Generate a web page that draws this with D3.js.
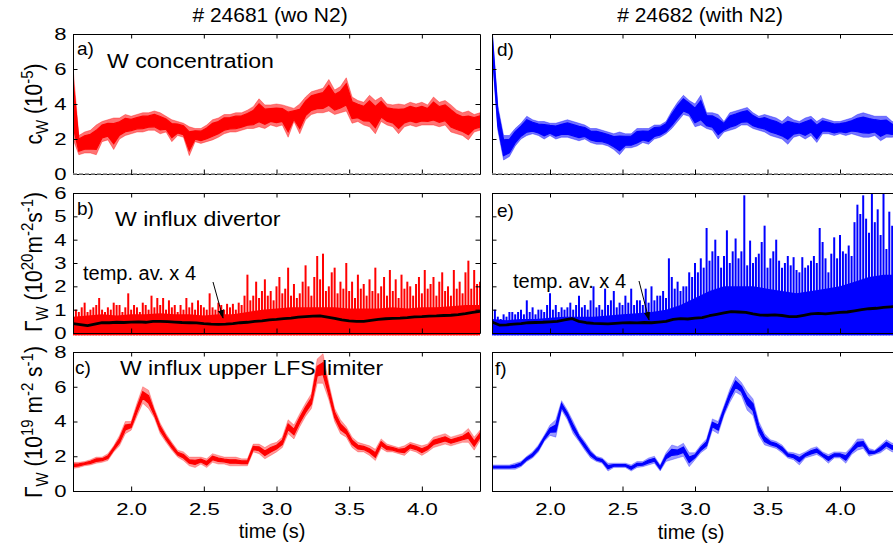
<!DOCTYPE html>
<html>
<head>
<meta charset="utf-8">
<script src="https://cdn.jsdelivr.net/npm/d3@7"></script>
<style>
  body { margin: 0; background: #fff; }
  svg { display: block; }
  text { font-family: "Liberation Sans", Arial, Helvetica, sans-serif; fill: #000; }
</style>
</head>
<body>
<svg id="chart" width="893" height="550"></svg>
<script>
// ---------------- data ----------------
const shotTitles = ["# 24681 (wo N2)", "# 24682 (with N2)"];
const timeTicks = [2.0, 2.5, 3.0, 3.5, 4.0];
const timeDomain = [1.6, 4.4];

// W concentration (10^-5): min / max envelope every 0.04 s from 1.60 s
const bandStep = 0.04;
const concHiA = [6.1,2.2,2.4,2.5,2.8,3.0,3.1,3.2,3.2,3.4,3.3,3.4,3.5,3.5,3.6,3.5,3.3,3.1,3.0,2.9,2.7,2.6,2.6,2.8,3.1,3.2,3.4,3.4,3.5,3.5,3.65,3.85,4.3,3.95,3.95,4.0,3.95,3.85,3.75,4.0,4.4,4.7,4.8,4.9,5.4,4.8,5.0,5.5,4.4,4.2,4.1,4.5,4.2,4.4,4.0,3.95,4.0,3.95,4.1,4.0,4.1,3.95,4.4,4.1,4.2,3.95,3.65,3.5,3.6,3.4,3.5];
const concLoA = [2.0,1.1,1.2,1.2,1.1,1.85,1.95,1.4,2.0,2.2,2.3,2.4,2.4,2.5,2.5,2.3,2.4,1.85,2.2,2.1,1.05,1.85,1.75,1.85,1.95,2.1,2.3,2.4,2.4,2.5,2.6,2.6,2.7,2.6,2.8,2.7,2.8,2.1,3.0,2.3,3.1,3.4,3.5,3.5,3.6,3.4,3.5,3.6,2.9,3.0,2.8,2.7,2.3,3.0,2.8,2.7,2.3,2.7,2.8,2.7,2.8,2.8,2.8,2.7,2.8,2.4,2.3,2.2,1.95,2.4,2.5];
const concHiD = [8.4,3.9,2.2,2.2,2.6,2.9,3.3,3.1,3.0,3.0,2.9,2.9,3.0,3.1,3.0,2.9,2.8,2.6,2.6,2.5,2.4,2.3,2.4,2.3,2.3,2.6,2.6,2.6,2.8,2.8,3.0,3.6,4.1,4.5,4.2,4.0,4.5,3.5,3.5,3.4,3.0,3.5,3.6,3.7,3.8,3.5,3.3,3.4,3.3,3.2,3.0,3.3,3.1,3.0,3.2,3.3,3.0,3.2,3.1,3.0,3.0,3.1,3.2,3.4,3.5,3.4,3.3,3.3,3.3,3.0,3.0];
const concLoD = [7.0,2.5,0.8,1.0,1.6,2.0,2.2,2.3,2.2,2.0,2.2,2.0,2.1,2.1,2.0,1.9,2.0,1.8,1.7,1.7,1.6,1.4,1.1,1.5,1.5,1.6,1.8,1.7,2.0,2.1,2.3,2.6,3.0,3.4,3.3,2.7,2.8,2.6,2.5,2.0,2.4,2.5,2.6,2.8,2.8,2.6,2.5,2.4,2.2,2.1,2.0,1.7,2.1,2.2,2.0,2.2,1.8,2.3,2.3,2.2,2.3,2.2,2.3,2.2,2.1,2.1,2.2,1.9,2.1,2.1,2.2];

// W influx, upper LFS limiter (10^19 m^-2 s^-1): envelope every 0.04 s
const limHiC = [1.65,1.65,1.7,1.8,1.95,1.95,2.15,2.6,3.2,4.0,4.0,5.05,6.0,5.8,4.75,3.9,3.3,2.8,2.35,2.25,1.95,1.95,1.95,1.85,2.15,2.05,1.95,1.95,1.95,1.85,1.85,2.7,2.7,2.5,2.7,2.8,3.1,4.1,3.8,4.45,5.05,5.6,7.6,7.9,6.2,4.75,4.1,3.7,3.1,2.8,2.7,2.6,2.4,3.0,2.7,2.6,2.5,2.6,2.8,2.7,2.6,2.7,3.1,3.2,3.3,3.1,3.2,3.3,3.6,3.1,3.5];
const limLoC = [1.3,1.35,1.45,1.5,1.6,1.65,1.75,2.25,2.6,3.3,3.5,4.3,5.05,4.75,4.2,3.3,2.8,2.35,1.95,1.75,1.45,1.35,1.55,1.35,1.65,1.55,1.55,1.45,1.45,1.45,1.45,2.25,2.15,1.85,2.05,2.25,2.5,3.3,3.0,3.7,4.3,4.75,6.2,6.2,5.25,4.0,3.3,3.1,2.5,2.25,2.25,2.05,1.75,2.45,2.25,2.25,2.15,2.05,2.35,2.25,2.05,2.25,2.5,2.6,2.7,2.6,2.7,2.8,2.8,2.35,2.9];
const limHiF = [1.5,1.5,1.5,1.5,1.6,1.7,2.0,2.25,2.65,3.2,3.8,4.1,5.2,4.65,4.0,3.3,2.85,2.35,2.0,1.9,1.6,1.6,1.6,1.6,1.5,1.7,1.7,1.9,2.0,1.5,2.2,2.65,2.55,2.75,2.2,2.2,2.65,3.0,4.15,4.0,4.9,5.85,6.6,6.25,5.7,5.3,4.0,3.3,2.95,2.85,2.65,2.25,2.2,2.1,2.25,2.45,2.55,2.25,2.1,2.25,2.25,2.2,2.55,3.0,3.0,2.45,2.35,2.65,2.95,2.75,2.8];
const limLoF = [1.25,1.25,1.25,1.25,1.25,1.4,1.7,1.9,2.25,2.85,3.2,3.1,4.65,4.1,3.3,2.85,2.35,1.9,1.7,1.6,1.15,1.35,1.35,1.35,1.15,1.35,1.4,1.5,1.6,1.15,1.7,1.8,1.9,2.0,1.4,1.8,2.2,2.45,3.5,3.3,4.35,5.1,5.7,5.5,4.65,4.35,3.2,2.65,2.55,2.45,2.2,1.9,1.8,1.5,1.9,2.0,2.1,1.9,1.6,1.9,1.9,1.6,2.1,2.35,2.45,2.0,2.1,2.2,2.45,2.25,2.3];

// W influx, divertor (10^20 m^-2 s^-1): individual spikes every 0.02 s
const spikeStep = 0.02;
const spikeB = [0.8,1.0,0.9,1.1,1.3,0.9,1.0,1.1,1.2,1.5,1.0,0.9,1.1,1.0,1.3,1.2,1.2,0.9,1.1,1.7,1.0,1.2,1.1,0.9,1.3,1.2,1.0,1.6,1.1,1.5,1.2,1.5,1.0,1.4,1.1,1.2,0.9,1.2,1.0,1.5,1.1,1.3,1.0,1.4,1.2,1.1,1.0,1.7,1.1,1.0,1.3,1.2,1.0,1.25,1.1,1.25,1.0,1.3,1.2,1.6,2.5,1.4,1.6,2.2,1.5,1.8,2.3,1.6,1.8,1.4,2.0,2.4,1.7,1.9,2.8,1.6,2.1,1.5,1.7,2.2,2.9,2.0,1.6,2.4,3.3,2.3,3.4,1.8,2.0,2.6,2.8,1.7,2.2,1.9,3.0,1.8,2.2,1.5,2.5,1.9,2.1,1.6,2.3,1.8,2.8,1.7,2.0,2.4,1.6,2.7,1.8,2.3,1.5,2.5,1.9,2.2,2.0,1.6,2.1,2.4,1.7,2.7,1.9,2.1,2.4,1.6,2.2,2.6,1.8,2.0,1.6,2.7,1.9,2.2,1.7,2.6,3.1,1.9,2.7,2.1,2.2];
const spikeE = [0.9,1.0,0.7,0.6,0.8,0.7,0.9,0.9,0.8,0.9,1.0,0.8,1.4,0.9,1.1,0.8,1.0,1.0,0.9,1.2,1.7,1.0,1.2,0.9,1.1,1.0,1.1,1.3,1.0,1.2,1.6,1.1,1.2,1.0,1.4,2.0,1.1,1.2,1.0,1.9,1.2,1.4,1.8,1.1,1.3,1.2,1.6,1.3,1.9,1.2,1.4,1.4,1.2,1.9,1.3,2.0,1.4,1.6,1.6,1.8,1.5,3.2,2.4,1.9,2.2,1.8,2.0,2.0,2.6,2.4,3.0,2.6,3.2,2.8,4.5,3.1,3.5,4.0,3.3,2.8,3.3,4.4,3.0,3.5,4.05,3.2,3.5,5.9,2.9,3.96,3.0,3.25,3.4,3.9,4.6,2.8,3.2,3.5,4.0,3.1,2.8,3.0,3.3,2.9,3.25,2.7,2.6,3.25,2.8,2.9,3.1,3.3,3.0,4.5,3.9,3.2,2.6,3.4,4.1,3.2,4.2,3.5,3.4,3.75,3.3,4.75,5.5,5.1,5.9,4.9,4.3,6.2,4.75,5.3,4.2,6.2,3.6,5.2,4.6,5.0,4.4];
// dense floor of the divertor signal, every 0.1 s
const floorStep = 0.1;
const floorB = [0.7,0.75,0.8,0.75,0.8,0.8,0.85,0.8,0.8,0.75,0.8,0.8,0.9,1.0,1.05,1.1,1.1,1.1,1.1,1.05,1.05,1.05,1.1,1.05,1.1,1.1,1.15,1.2,1.2];
const floorE = [0.6,0.55,0.6,0.6,0.65,0.7,0.7,0.7,0.75,0.8,0.85,0.9,1.0,1.2,1.5,1.8,2.0,2.0,2.0,1.9,1.8,1.7,1.8,1.9,2.0,2.2,2.4,2.5,2.5];
// temporal average x 4, every 0.05 s
const avgStep = 0.05;
const avgB = [0.40,0.36,0.32,0.38,0.44,0.44,0.46,0.45,0.47,0.48,0.46,0.50,0.50,0.49,0.47,0.45,0.44,0.43,0.40,0.38,0.37,0.38,0.40,0.44,0.46,0.50,0.52,0.56,0.58,0.62,0.64,0.68,0.70,0.72,0.73,0.68,0.63,0.56,0.52,0.50,0.50,0.54,0.58,0.61,0.63,0.64,0.66,0.69,0.70,0.72,0.73,0.75,0.76,0.79,0.83,0.88,0.93];
const avgE = [0.47,0.34,0.35,0.38,0.40,0.44,0.45,0.46,0.48,0.50,0.56,0.62,0.50,0.44,0.41,0.40,0.39,0.41,0.43,0.44,0.43,0.45,0.44,0.47,0.50,0.58,0.62,0.60,0.64,0.66,0.74,0.80,0.86,0.92,0.90,0.88,0.82,0.77,0.76,0.78,0.75,0.70,0.70,0.76,0.82,0.84,0.82,0.85,0.88,0.90,0.95,1.00,1.04,1.06,1.10,1.12,1.14];

// ---------------- layout ----------------
const svg = d3.select("#chart");
const FONT = '"Liberation Sans", Arial, Helvetica, sans-serif';
const RED = "#ff0000", BLUE = "#0000ff";
const colLayout = [{x0: 73, x1: 480}, {x0: 492, x1: 898}];
const rowLayout = [
  {y0: 34, y1: 174, max: 8, ticks: [0, 2, 4, 6, 8]},
  {y0: 193, y1: 333, max: 6, ticks: [0, 1, 2, 3, 4, 5, 6]},
  {y0: 352, y1: 491, max: 8, ticks: [0, 2, 4, 6, 8]}
];
const tickLen = 4.5;
const tickFont = 17, tickStretch = 1.3;
const tAt = (step) => (d, i) => timeDomain[0] + i * step;

const defs = svg.append("defs");
defs.append("marker").attr("id", "arrowHead")
  .attr("viewBox", "0 0 10 10").attr("refX", 9).attr("refY", 5)
  .attr("markerWidth", 9).attr("markerHeight", 9).attr("markerUnits", "userSpaceOnUse")
  .attr("orient", "auto")
  .append("path").attr("d", "M0,1.5 L10,5 L0,8.5 Z").attr("fill", "#000");

function makePanel(c, r) {
  const L = colLayout[c], R = rowLayout[r];
  const x = d3.scaleLinear().domain(timeDomain).range([L.x0, L.x1]);
  const y = d3.scaleLinear().domain([0, R.max]).range([R.y1, R.y0]);
  const id = `clip-${c}-${r}`;
  defs.append("clipPath").attr("id", id).append("rect")
    .attr("x", L.x0).attr("y", R.y0).attr("width", L.x1 - L.x0).attr("height", R.y1 - R.y0 + 3);
  const g = svg.append("g");
  const plot = g.append("g").attr("clip-path", `url(#${id})`);
  return {c, r, x, y, g, plot, L, R};
}

// noisy trace drawn from its envelope: a faint outer band and a solid core
function drawBand(p, hi, lo, color, coreFrac, outerOpacity) {
  const xs = (d, i) => p.x(tAt(bandStep)(d, i));
  const outer = d3.area().x(xs).y0((d, i) => p.y(lo[i])).y1(d => p.y(d));
  p.plot.append("path").datum(hi).attr("d", outer)
    .attr("fill", color).attr("fill-opacity", outerOpacity)
    .attr("stroke", color).attr("stroke-opacity", outerOpacity * 0.8).attr("stroke-width", 0.8);
  const core = d3.area().x(xs)
    .y0((d, i) => p.y(lo[i] + (d - lo[i]) * coreFrac))
    .y1((d, i) => p.y(d - (d - lo[i]) * coreFrac));
  p.plot.append("path").datum(hi).attr("d", core)
    .attr("fill", color).attr("stroke", color).attr("stroke-width", 1.2);
}

function drawSpikes(p, spikes, floor, avg, color) {
  const floorArea = d3.area()
    .x((d, i) => p.x(tAt(floorStep)(d, i)))
    .y0(p.y(-0.1))
    .y1(d => p.y(d));
  p.plot.append("path").datum(floor).attr("d", floorArea).attr("fill", color);
  p.plot.append("g").selectAll("line").data(spikes).join("line")
    .attr("x1", (d, i) => p.x(tAt(spikeStep)(d, i)))
    .attr("x2", (d, i) => p.x(tAt(spikeStep)(d, i)))
    .attr("y1", p.y(-0.1))
    .attr("y2", d => p.y(d))
    .attr("stroke", color).attr("stroke-width", 2.0);
  const line = d3.line()
    .x((d, i) => p.x(tAt(avgStep)(d, i)))
    .y(d => p.y(d));
  p.plot.append("path").datum(avg).attr("d", line)
    .attr("fill", "none").attr("stroke", "#000").attr("stroke-width", 2.8)
    .attr("stroke-linejoin", "round");
}

function styleAxis(sel) {
  sel.selectAll("path.domain").attr("stroke", "#000").attr("stroke-width", 1);
  sel.selectAll(".tick line").attr("stroke", "#000").attr("stroke-width", 1);
  sel.selectAll("text").attr("font-family", FONT).attr("font-size", tickFont).attr("fill", "#000");
}

function drawAxes(p, withYLabels, withXLabels) {
  const {x, y, L, R, g} = p;
  const left = g.append("g").attr("transform", `translate(${L.x0},0)`)
    .call(d3.axisLeft(y).tickValues(R.ticks).tickSizeInner(-tickLen).tickSizeOuter(0)
      .tickPadding(5).tickFormat(withYLabels ? d3.format("d") : ""));
  styleAxis(left);
  left.selectAll("text").attr("transform", `scale(${tickStretch},1)`);
  const right = g.append("g").attr("transform", `translate(${L.x1},0)`)
    .call(d3.axisRight(y).tickValues(R.ticks).tickSizeInner(-tickLen).tickSizeOuter(0).tickFormat(""));
  styleAxis(right);
  const top = g.append("g").attr("transform", `translate(0,${R.y0})`)
    .call(d3.axisTop(x).tickValues(timeTicks).tickSizeInner(-tickLen).tickSizeOuter(0).tickFormat(""));
  styleAxis(top);
  const bottom = g.append("g").attr("transform", `translate(0,${R.y1})`)
    .call(d3.axisBottom(x).tickValues(timeTicks).tickSizeInner(-tickLen).tickSizeOuter(0)
      .tickPadding(12).tickFormat(withXLabels ? d3.format(".1f") : ""));
  styleAxis(bottom);
  bottom.selectAll("text").attr("transform", `scale(${tickStretch},1)`);
}

function zeroLine(p) {
  p.g.append("line")
    .attr("x1", p.x(timeDomain[0])).attr("x2", p.x(timeDomain[1]))
    .attr("y1", p.y(0)).attr("y2", p.y(0))
    .attr("stroke", "#8a8a8a").attr("stroke-width", 1.6).attr("stroke-dasharray", "4 2");
}

// rotated y-axis label with sub/superscripts
function yLabel(cy, parts) {
  const t = svg.append("text")
    .attr("transform", `translate(42,${cy}) scale(1.15,1) rotate(-90)`)
    .attr("text-anchor", "middle")
    .attr("font-family", FONT).attr("font-size", 21);
  let shift = 0;
  parts.forEach(([s, kind]) => {
    const target = kind === "sub" ? 5 : kind === "sup" ? -8 : 0;
    t.append("tspan").attr("dy", target - shift)
      .attr("font-size", kind ? 15 : 21).text(s);
    shift = target;
  });
}

function label(x, y, s, size, anchor, sx) {
  svg.append("text")
    .attr("transform", `translate(${x},${y}) scale(${sx || 1},1)`)
    .attr("text-anchor", anchor || "start")
    .attr("font-family", FONT).attr("font-size", size).text(s);
}

// ---------------- panels ----------------
const pa = makePanel(0, 0), pd = makePanel(1, 0);
const pb = makePanel(0, 1), pe = makePanel(1, 1);
const pc = makePanel(0, 2), pf = makePanel(1, 2);

drawBand(pa, concHiA, concLoA, RED, 0.18, 0.55);
drawBand(pd, concHiD, concLoD, BLUE, 0.18, 0.55);
drawSpikes(pb, spikeB, floorB, avgB, RED);
drawSpikes(pe, spikeE, floorE, avgE, BLUE);
drawBand(pc, limHiC, limLoC, RED, 0.3, 0.4);
drawBand(pf, limHiF, limLoF, BLUE, 0.3, 0.4);

[pa, pb, pc].forEach(p => drawAxes(p, true, p === pc));
[pd, pe, pf].forEach(p => drawAxes(p, false, p === pf));
zeroLine(pa); zeroLine(pd);

// titles
label(270, 22, shotTitles[0], 21, "middle");
label(700, 22, shotTitles[1], 21, "middle");

// panel captions
label(77, 55, "a)", 19);
label(497, 56, "d)", 19);
label(77, 215, "b)", 19);
label(497, 217, "e)", 19);
label(75, 374, "c)", 19);
label(495, 375, "f)", 19);
label(107, 68, "W concentration", 21, "start", 1.1);
label(115, 226, "W influx divertor", 21, "start", 1.1);
label(120, 375, "W influx upper LFS limiter", 20, "start", 1.15);

// averaged-trace annotations
label(83, 280, "temp. av. x 4", 20);
label(513, 288, "temp. av. x 4", 20);
svg.append("line").attr("x1", 213).attr("y1", 282).attr("x2", 223).attr("y2", 318)
  .attr("stroke", "#000").attr("stroke-width", 1).attr("marker-end", "url(#arrowHead)");
svg.append("line").attr("x1", 639).attr("y1", 281).attr("x2", 649).attr("y2", 320)
  .attr("stroke", "#000").attr("stroke-width", 1).attr("marker-end", "url(#arrowHead)");

// axis titles
yLabel(104, [["c"], ["W", "sub"], ["   (10"], ["-5", "sup"], [")"]]);
yLabel(262, [["Γ"], ["W", "sub"], ["  (10"], ["20", "sup"], ["m"], ["-2", "sup"], ["s"], ["-1", "sup"], [")"]]);
yLabel(422, [["Γ"], ["W", "sub"], ["  (10"], ["19", "sup"], [" m"], ["-2", "sup"], [" s"], ["-1", "sup"], [")"]]);
label(272, 538, "time (s)", 20, "middle");
label(691, 539, "time (s)", 20, "middle");
</script>
</body>
</html>
